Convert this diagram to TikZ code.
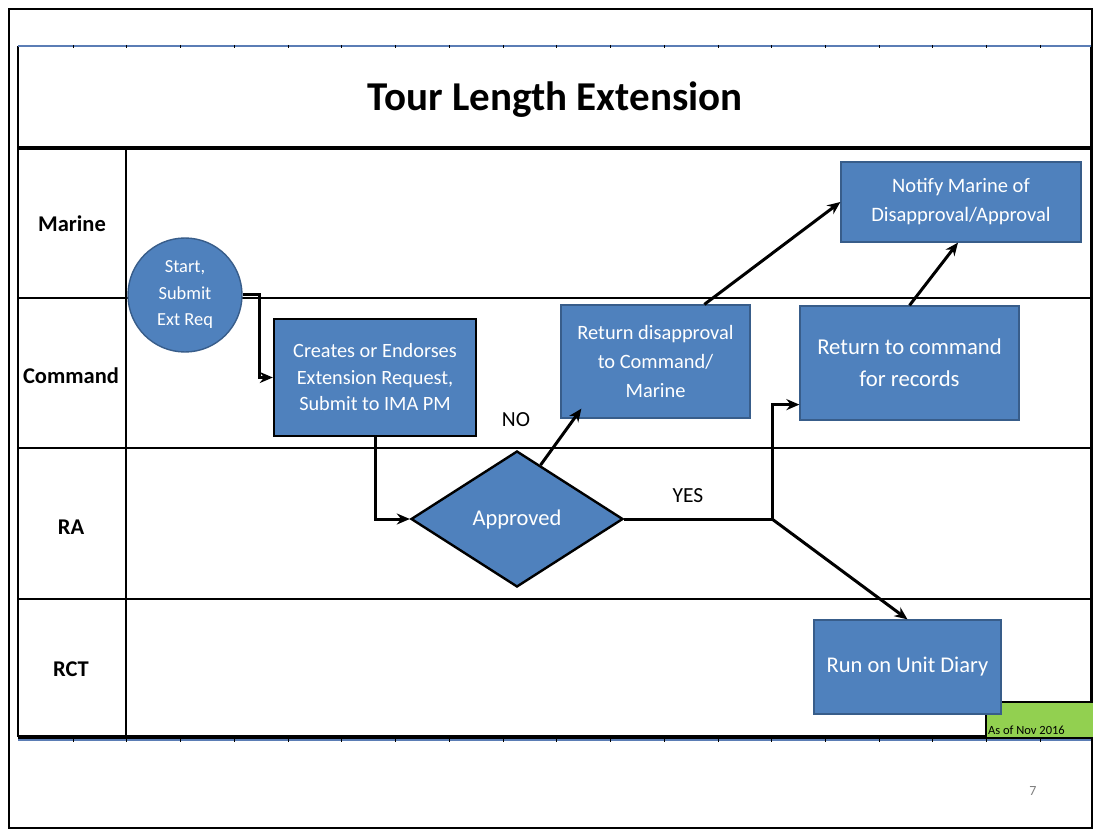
\documentclass[tikz,border=0pt]{standalone}
\usepackage{fontspec}
\setmainfont{Carlito}
\usetikzlibrary{shapes.geometric,arrows.meta,calc}
\definecolor{boxblue}{HTML}{4F81BD}
\definecolor{boxedge}{HTML}{385D8A}
\definecolor{tagreen}{HTML}{92D050}
\definecolor{tblblue}{HTML}{5B7DB5}
\tikzset{
  lane/.style={line width=3.2pt, draw=black},
  lanelabel/.style={font=\fontsize{22.5}{26}\selectfont\bfseries, anchor=center},
  procbox/.style={rectangle, fill=boxblue, draw=boxedge, line width=1.2pt, text=white, align=center, inner sep=0pt},
  flowarrow/.style={line width=3pt, -{Stealth[length=13pt,width=11pt]}},
  flowline/.style={line width=3pt},
  lbl/.style={font=\fontsize{21.5}{24}\selectfont, text=black}
}
\begin{document}
\begin{tikzpicture}[x=1pt,y=-1pt]
\useasboundingbox (0,0) rectangle (1093,829);
\fill[white] (0,0) rectangle (1093,829);
% outer frame
\draw[line width=1.8pt] (9,9) rectangle (1092,828);
% table
\draw[line width=1.2pt] (18,46) -- (18,737);
\draw[line width=1.2pt] (1091,46) -- (1091,737);
\draw[line width=1.4pt, draw=tblblue] (18,46) -- (1091,46);
\draw[line width=1.4pt, draw=tblblue] (18,740) -- (1091,740);
\foreach \xx in {73,126,180,234,288,341,395,449,503,556,610,664,718,771,825,879,932,986,1040}{
  \draw[line width=1pt] (\xx,45) -- (\xx,48);
  \draw[line width=1pt] (\xx,738) -- (\xx,742);
}
\draw[lane] (18,148) -- (1091,148);
\draw[line width=2.6pt] (18,298) -- (1091,298);
\draw[line width=2.6pt] (18,448) -- (1091,448);
\draw[line width=2.6pt] (18,599) -- (1091,599);
\draw[lane] (18,737) -- (1091,737);
\draw[line width=1.4pt] (126,148) -- (126,737);
% title
\node[font=\fontsize{41}{46}\selectfont\bfseries] (title) at (555,100) {Tour Length Extension};
% lane labels
\node[lanelabel] (lmarine) at (72,224) {Marine};
\node[lanelabel] (lcommand) at (71,376) {Command};
\node[lanelabel] (lra) at (71,527) {RA};
\node[lanelabel] (lrct) at (71,669) {RCT};
% green tag
\fill[tagreen] (986,702) rectangle (1093,737);
\draw[line width=1.4pt] (986,737) -- (986,702) -- (1093,702);
\node[anchor=south west, inner sep=1pt, font=\fontsize{12.5}{14}\selectfont] (asof) at (987,736) {As of Nov 2016};
% shapes
\node[circle, fill=boxblue, draw=boxedge, line width=1.4pt, minimum size=114pt, inner sep=0pt, text=white, align=center, font=\fontsize{18.4}{26.5}\selectfont] (start) at (185,295) {Start,\\Submit\\Ext Req};
\node[procbox, draw=black, line width=2.4pt, minimum width=202pt, minimum height=117pt, font=\fontsize{20.3}{26.5}\selectfont] (create) at (375,377.5) {Creates or Endorses\\Extension Request,\\Submit to IMA PM};
\node[diamond, fill=boxblue, draw=black, line width=2.4pt, minimum width=212pt, minimum height=136pt, inner sep=0pt, text=white, font=\fontsize{22.5}{26}\selectfont] (appr) at (517,519) {Approved};
\node[procbox, minimum width=189pt, minimum height=113pt, font=\fontsize{20.4}{29}\selectfont] (retdis) at (655.5,361.5) {Return disapproval\\to Command/\\Marine};
\node[procbox, minimum width=219pt, minimum height=114pt, font=\fontsize{22.7}{32}\selectfont] (retcmd) at (909.5,363) {Return to command\\for records};
\node[procbox, minimum width=240pt, minimum height=80pt, font=\fontsize{20.5}{29}\selectfont] (notify) at (961,202) {Notify Marine of\\Disapproval/Approval};
\node[procbox, minimum width=187pt, minimum height=94pt, font=\fontsize{22.5}{26}\selectfont] (diary) at (907.5,667) {Run on Unit Diary};
% labels
\node[lbl] (no) at (516,420) {NO};
\node[lbl] (yes) at (688,496) {YES};
% connectors
\coordinate (split) at (772,519);
\draw[flowarrow] (start.east) -- ++(17,0) |- (create.west);
\draw[flowarrow] (create.south) |- (appr.west);
\draw[flowarrow] ($(appr.north)!0.22!(appr.east)$) -- ($(retdis.south west)+(21,-10)$);
\draw[flowline] (appr.east) -- (split);
\draw[flowarrow] (split) |- ($(retcmd.south west)+(0,-16)$);
\draw[flowarrow] (split) -- (diary.north);
\draw[flowarrow] ($(retdis.north west)!0.757!(retdis.north east)$) -- (notify.west);
\draw[flowarrow] (retcmd.north) -- ($(notify.south)+(-3,0)$);
% page number
\node[font=\fontsize{14}{16}\selectfont, text=gray] (pnum) at (1033,791) {7};
\end{tikzpicture}
\end{document}
